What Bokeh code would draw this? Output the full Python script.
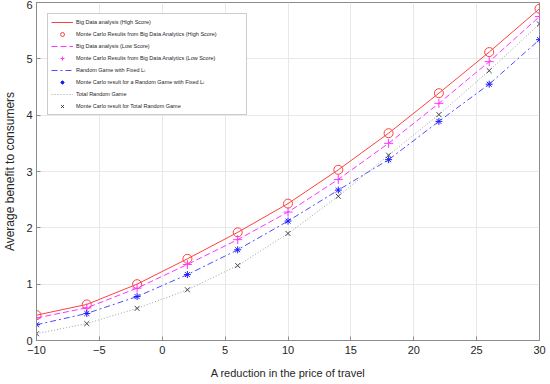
from bokeh.plotting import figure
from bokeh.models import Legend, LegendItem, FixedTicker, Range1d
from bokeh.embed import file_html
from bokeh.resources import INLINE

# Data
price_reduction = [-10, -6, -2, 2, 6, 10, 14, 18, 22, 26, 30]
high_score = [0.45, 0.64, 1.00, 1.45, 1.92, 2.43, 3.03, 3.68, 4.39, 5.12, 5.89]
low_score = [0.40, 0.58, 0.93, 1.35, 1.79, 2.28, 2.86, 3.50, 4.21, 4.95, 5.75]
fixed_L = [0.28, 0.48, 0.78, 1.17, 1.61, 2.12, 2.67, 3.21, 3.89, 4.55, 5.34]
total_random = [0.12, 0.30, 0.57, 0.90, 1.33, 1.90, 2.56, 3.29, 4.01, 4.79, 5.62]
x_ticks = [-10, -5, 0, 5, 10, 15, 20, 25, 30]
y_ticks = [0, 1, 2, 3, 4, 5, 6]

FONT = "Liberation Sans"

p = figure(frame_width=503, frame_height=338, output_backend="svg", toolbar_location=None,
           x_range=Range1d(-10, 30), y_range=Range1d(0, 6),
           min_border_left=29, min_border_right=8, min_border_top=2, min_border_bottom=30)

p.background_fill_color = "white"
p.border_fill_color = "white"
p.outline_line_color = "#8c8c8c"
p.outline_line_width = 1

for ax in (p.xaxis, p.yaxis):
    ax.axis_line_color = "#8c8c8c"
    ax.major_tick_line_color = "#8c8c8c"
    ax.major_tick_in = 4
    ax.major_tick_out = 0
    ax.minor_tick_line_color = None
    ax.major_label_text_font = FONT
    ax.major_label_text_font_size = "11px"
    ax.major_label_text_color = "#262626"
    ax.axis_label_text_font = FONT
    ax.axis_label_text_font_style = "normal"
    ax.axis_label_text_color = "#262626"

p.xaxis.ticker = FixedTicker(ticks=x_ticks)
p.yaxis.ticker = FixedTicker(ticks=y_ticks)
p.xaxis.axis_label = "A reduction in the price of travel"
p.yaxis.axis_label = "Average benefit to consumers"
p.xaxis.axis_label_text_font_size = "11px"
p.yaxis.axis_label_text_font_size = "12px"
p.xaxis.major_label_standoff = 5
p.xaxis.axis_label_standoff = 10
p.yaxis.major_label_standoff = 4
p.yaxis.axis_label_standoff = 6

p.xgrid.grid_line_color = "#e8e8e8"
p.ygrid.grid_line_color = "#e8e8e8"

l1 = p.line(price_reduction, high_score, line_color="#ff4040", line_width=1)
m1 = p.scatter(price_reduction, high_score, marker="circle", size=9,
               fill_color=None, line_color="#ff4040", line_width=1)
l2 = p.line(price_reduction, low_score, line_color="#ff33ff", line_width=1, line_dash="6 3")
m2 = p.scatter(price_reduction, low_score, marker="cross", size=9,
               line_color="#ff33ff", line_width=1)
l3 = p.line(price_reduction, fixed_L, line_color="#4d4dff", line_width=1, line_dash="6 3 2 3")
m3 = p.scatter(price_reduction, fixed_L, marker="asterisk", size=7,
               line_color="#1a1aff", line_width=1)
l4 = p.line(price_reduction, total_random, line_color="#a0a0a0", line_width=1, line_dash="1 2")
m4 = p.scatter(price_reduction, total_random, marker="x", size=7,
               line_color="#404040", line_width=1)

items = [
    LegendItem(label="Big Data analysis (High Score)", renderers=[l1]),
    LegendItem(label="Monte Carlo Results from Big Data Analytics (High Score)", renderers=[m1]),
    LegendItem(label="Big Data analysis (Low Score)", renderers=[l2]),
    LegendItem(label="Monte Carlo Results from Big Data Analytics (Low Score)", renderers=[m2]),
    LegendItem(label="Random Game with Fixed L\u1d62", renderers=[l3]),
    LegendItem(label="Monte Carlo result for a Random Game with Fixed L\u1d62", renderers=[m3]),
    LegendItem(label="Total Random Game", renderers=[l4]),
    LegendItem(label="Monte Carlo result for Total Random Game", renderers=[m4]),
]
legend = Legend(items=items, location="top_left", margin=11, padding=3, spacing=2,
                glyph_width=22, glyph_height=10, label_height=10, label_width=167,
                label_standoff=3, label_text_font=FONT, label_text_font_size="5.5px",
                label_text_color="#262626", border_line_color="#999999",
                border_line_width=1, background_fill_color="white", background_fill_alpha=1)
p.add_layout(legend, "center")

open("out.html", "w").write(file_html(p, INLINE))
